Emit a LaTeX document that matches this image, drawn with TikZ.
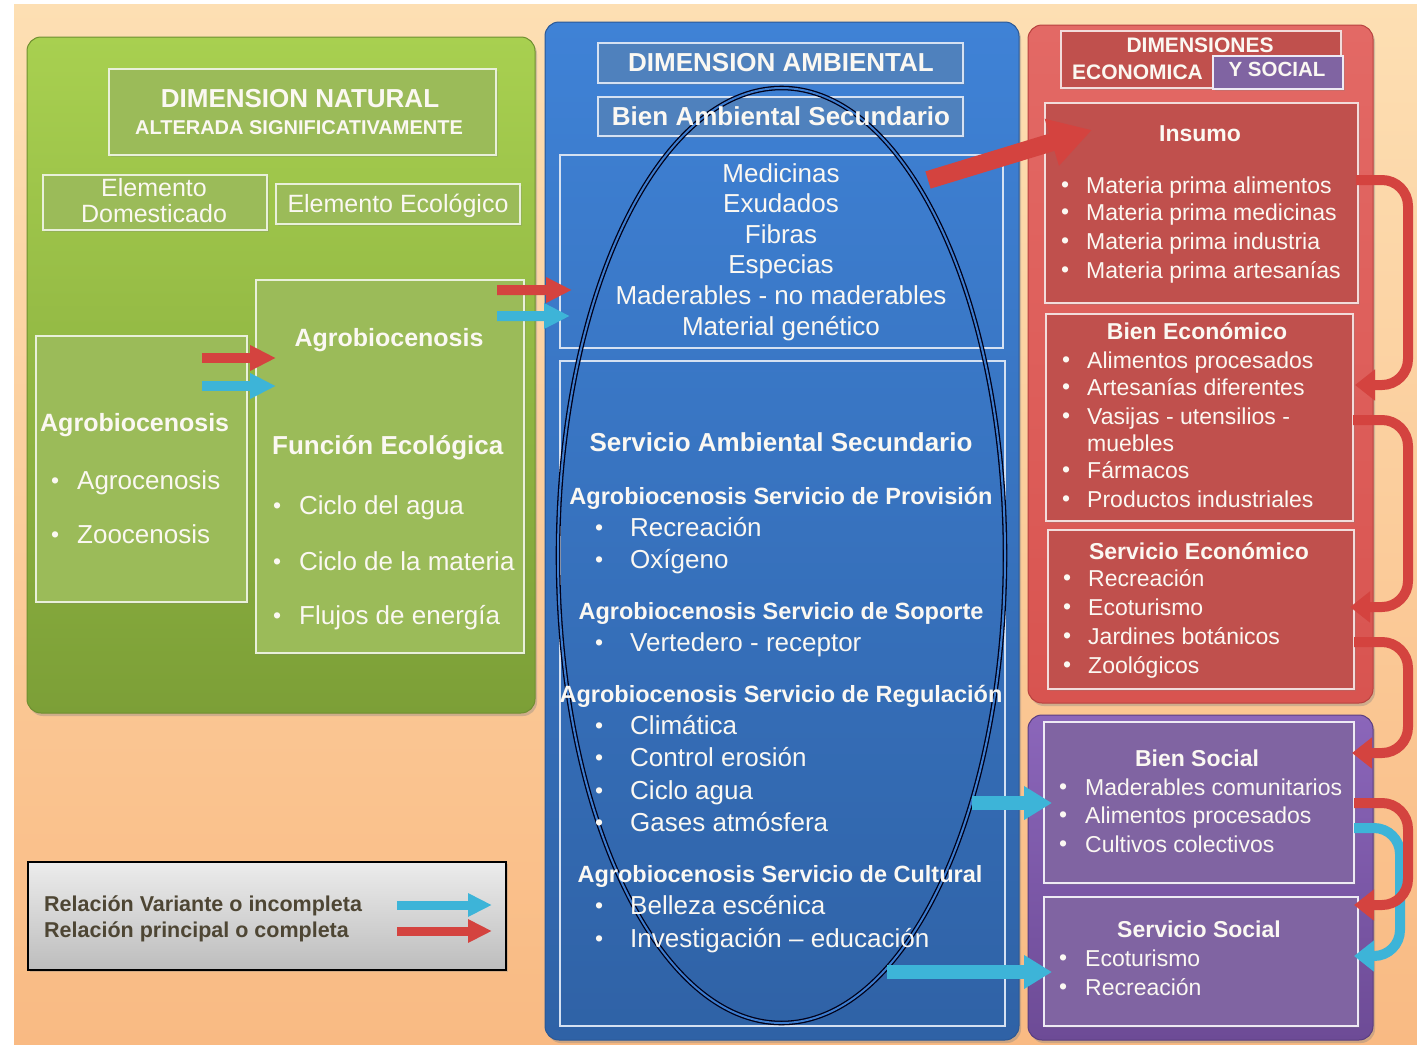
\documentclass[tikz,border=0pt]{standalone}
\usepackage{fontspec}
\setmainfont{Liberation Sans}
\usetikzlibrary{arrows.meta,calc,shadows,shapes.geometric}
\definecolor{peachT}{HTML}{FDDFB3}\definecolor{peachB}{HTML}{F9BA83}
\definecolor{grnT}{HTML}{A8D050}\definecolor{grnB}{HTML}{7C9F37}\definecolor{grnD}{HTML}{6F8F30}
\definecolor{gbox}{HTML}{9BBB59}\definecolor{gline}{HTML}{E9F0DA}
\definecolor{bluT}{HTML}{3F82D6}\definecolor{bluB}{HTML}{2F62A6}\definecolor{bluD}{HTML}{2A5896}
\definecolor{bbox}{HTML}{4F81BD}\definecolor{bline}{HTML}{D5E1F2}
\definecolor{redT}{HTML}{E36965}\definecolor{redB}{HTML}{D85450}\definecolor{redD}{HTML}{B8423F}
\definecolor{rbox}{HTML}{C0504D}\definecolor{rline}{HTML}{F2DCDB}
\definecolor{purT}{HTML}{8B66BA}\definecolor{purB}{HTML}{6D4B96}\definecolor{purD}{HTML}{5A3D80}
\definecolor{pbox}{HTML}{8064A2}\definecolor{pline}{HTML}{EEEAF4}
\definecolor{arrR}{HTML}{D4433F}\definecolor{arrC}{HTML}{3DB4D8}
\definecolor{txtw}{HTML}{FBF8F2}
\definecolor{legT}{HTML}{ECECEC}\definecolor{legB}{HTML}{BDBDBD}\definecolor{legtxt}{HTML}{4E4634}
\newcommand\fs[1]{\fontsize{#1bp}{#1bp}\selectfont}
\newcommand\bul[1]{\makebox[#1bp][l]{\raisebox{0.5bp}{\fs{23}•}}}
\newcommand\mybox[6]{\node[#1,minimum width={(#4-#2)*1bp},minimum height={(#5-#3)*1bp}] (#6) at ({(#2+#4)/2},{(#3+#5)/2}) {};}
\tikzset{
  base/.style={inner sep=0pt,outer sep=0pt},
  panel/.style={base,rounded corners=14bp,line width=1bp,drop shadow={opacity=0.35,shadow xshift=2bp,shadow yshift=-3bp}},
  gpanel/.style={panel,top color=grnT,bottom color=grnB,draw=grnD},
  bpanel/.style={panel,top color=bluT,bottom color=bluB,draw=bluD},
  rpanel/.style={panel,top color=redT,bottom color=redB,draw=redD},
  ppanel/.style={panel,top color=purT,bottom color=purB,draw=purD},
  shbox/.style={base,line width=1.3bp,drop shadow={opacity=0.25,shadow xshift=2bp,shadow yshift=-2bp}},
  gboxs/.style={shbox,fill=gbox,draw=gline},
  bboxs/.style={shbox,fill=bbox,draw=bline},
  bframe/.style={base,line width=1.3bp,draw=bline},
  rboxs/.style={shbox,fill=rbox,draw=rline},
  pboxs/.style={shbox,fill=pbox,draw=pline},
  legbox/.style={base,top color=legT,bottom color=legB,draw=black,line width=1.5bp,drop shadow={opacity=0.3,shadow xshift=2bp,shadow yshift=-2bp}},
  txt/.style={inner sep=0pt,text=txtw,font=\fs{26}},
  btxt/.style={txt,font=\bfseries\fs{26}},
  rtxt/.style={txt,font=\fs{23}},
  rbtxt/.style={txt,font=\bfseries\fs{23}},
  smallR/.style={draw=arrR,line width=10bp,-{Triangle[length=26bp,width=24bp]}},
  smallC/.style={draw=arrC,line width=10bp,-{Triangle[length=26bp,width=24bp]}},
  bigR/.style={draw=arrR,line width=18bp,-{Triangle[length=42bp,width=46bp]}},
  midC/.style={draw=arrC,line width=14bp,-{Triangle[length=28bp,width=32bp]}},
  curR/.style={draw=arrR,line width=10bp,rounded corners=26bp,-{Triangle[length=20bp,width=30bp]}},
  curC/.style={draw=arrC,line width=10bp,rounded corners=26bp,-{Triangle[length=20bp,width=30bp]}},
  legR/.style={draw=arrR,line width=9bp,-{Triangle[length=24bp,width=22bp]}},
  legC/.style={draw=arrC,line width=9bp,-{Triangle[length=24bp,width=22bp]}},
  ell/.style={ellipse,draw=black!90!blue,double=bluT!85!bluB,double distance=2bp,line width=1.3bp,inner sep=0pt}
}
\begin{document}
\begin{tikzpicture}[x=1bp,y=-1bp]
\useasboundingbox (0,0) rectangle (1417,1044);
\fill[white] (0,0) rectangle (1417,1044);
\path[top color=peachT,bottom color=peachB] (14,4) rectangle (1417,1044);
% panels
\mybox{gpanel}{27}{37}{535}{713}{pgreen}
\mybox{bpanel}{545}{22}{1019}{1040}{pblue}
\mybox{rpanel}{1028}{25}{1373}{703}{pred}
\mybox{ppanel}{1028}{715}{1373}{1040}{ppur}
\mybox{legbox}{28}{862}{506}{970}{leg}
% green boxes
\mybox{gboxs}{109}{69}{496}{155}{dnat}
\mybox{gboxs}{43}{175}{267}{230}{edom}
\mybox{gboxs}{276}{184}{520}{224}{eeco}
\mybox{gboxs}{256}{280}{524}{653}{agroR}
\mybox{gboxs}{36}{336}{247}{602}{agroL}
% blue boxes
\mybox{bboxs}{598}{43}{963}{83}{damb}
\mybox{bboxs}{598}{97}{963}{136}{bamb}
\mybox{bframe}{560}{155}{1003}{348}{blist}
\mybox{bframe}{560}{361}{1005}{1026}{slist}
\node[ell,minimum width=447bp,minimum height=935bp] (oval) at (781.5,555.5) {};
% red / purple boxes
\mybox{rboxs}{1061}{31}{1341}{88}{dec}
\mybox{pboxs}{1213}{56}{1343}{89}{ysoc}
\mybox{rboxs}{1045}{103}{1358}{303}{ins}
\mybox{rboxs}{1046}{314}{1353}{521}{bec}
\mybox{rboxs}{1048}{530}{1354}{689}{sec}
\mybox{pboxs}{1044}{722}{1354}{883}{bso}
\mybox{pboxs}{1044}{897}{1358}{1026}{sso}

% ---------- texts: green
\node[btxt,anchor=base] (t-dn1) at (300,107) {DIMENSION NATURAL};
\node[txt,font=\bfseries\fs{20},anchor=base] (t-dn2) at (299,134) {ALTERADA SIGNIFICATIVAMENTE};
\node[txt,font=\fs{25},anchor=base] (t-ed1) at (154,196) {Elemento};
\node[txt,font=\fs{25},anchor=base] (t-ed2) at (154,222) {Domesticado};
\node[txt,font=\fs{25},anchor=base] (t-ee) at (398,212) {Elemento Ecológico};
\node[txt,font=\bfseries\fs{25},anchor=base] (t-agR) at (389,346) {Agrobiocenosis};
\node[btxt,anchor=base west] (t-fe) at (272,454) {Función Ecológica};
\node[txt,anchor=base west] (t-fe1) at (273,514) {\bul{26}Ciclo del agua};
\node[txt,anchor=base west] (t-fe2) at (273,570) {\bul{26}Ciclo de la materia};
\node[txt,anchor=base west] (t-fe3) at (273,624) {\bul{26}Flujos de energía};
\node[txt,font=\bfseries\fs{25},anchor=base west] (t-agL) at (40,431) {Agrobiocenosis};
\node[txt,anchor=base west] (t-agL1) at (51,489) {\bul{26}Agrocenosis};
\node[txt,anchor=base west] (t-agL2) at (51,543) {\bul{26}Zoocenosis};

% ---------- texts: blue
\node[btxt,anchor=base] (t-da) at (781,71) {DIMENSION AMBIENTAL};
\node[btxt,anchor=base] (t-ba) at (781,125) {Bien Ambiental Secundario};
\foreach \t [count=\i] in {Medicinas,Exudados,Fibras,Especias,Maderables - no maderables,Material genético}
  \node[txt,anchor=base] (t-m\i) at (781,{182+30.6*(\i-1)}) {\t};
\node[btxt,anchor=base] (t-sas) at (781,451) {Servicio Ambiental Secundario};
\node[txt,font=\bfseries\fs{23.5},anchor=base] (t-h1) at (781,504) {Agrobiocenosis Servicio de Provisión};
\node[txt,anchor=base west] (t-p1) at (595,536) {\bul{35}Recreación};
\node[txt,anchor=base west] (t-p2) at (595,568) {\bul{35}Oxígeno};
\node[txt,font=\bfseries\fs{23.5},anchor=base] (t-h2) at (781,619) {Agrobiocenosis Servicio de Soporte};
\node[txt,anchor=base west] (t-s1) at (595,651) {\bul{35}Vertedero - receptor};
\node[txt,font=\bfseries\fs{23.5},anchor=base] (t-h3) at (781,702) {Agrobiocenosis Servicio de Regulación};
\node[txt,anchor=base west] (t-r1) at (595,734) {\bul{35}Climática};
\node[txt,anchor=base west] (t-r2) at (595,766) {\bul{35}Control erosión};
\node[txt,anchor=base west] (t-r3) at (595,799) {\bul{35}Ciclo agua};
\node[txt,anchor=base west] (t-r4) at (595,831) {\bul{35}Gases atmósfera};
\node[txt,font=\bfseries\fs{23.5},anchor=base] (t-h4) at (780,882) {Agrobiocenosis Servicio de Cultural};
\node[txt,anchor=base west] (t-c1) at (595,914) {\bul{35}Belleza escénica};
\node[txt,anchor=base west] (t-c2) at (595,947) {\bul{35}Investigación – educación};

% ---------- texts: red / purple
\node[txt,font=\bfseries\fs{21},anchor=base] (t-dim) at (1200,52) {DIMENSIONES};
\node[txt,font=\bfseries\fs{21},anchor=base west] (t-eco) at (1072,79) {ECONOMICA};
\node[txt,font=\bfseries\fs{20.5},anchor=base] (t-ys) at (1277,76) {Y SOCIAL};
\node[rbtxt,anchor=base] (t-ins) at (1200,141) {Insumo};
\node[rtxt,anchor=base west] (t-i1) at (1061,193) {\bul{25}Materia prima alimentos};
\node[rtxt,anchor=base west] (t-i2) at (1061,220) {\bul{25}Materia prima medicinas};
\node[rtxt,anchor=base west] (t-i3) at (1061,249) {\bul{25}Materia prima industria};
\node[rtxt,anchor=base west] (t-i4) at (1061,278) {\bul{25}Materia prima artesanías};
\node[rbtxt,anchor=base] (t-bec) at (1197,339) {Bien Económico};
\node[rtxt,anchor=base west] (t-b1) at (1062,368) {\bul{25}Alimentos procesados};
\node[rtxt,anchor=base west] (t-b2) at (1062,395) {\bul{25}Artesanías diferentes};
\node[rtxt,anchor=base west] (t-b3) at (1062,424) {\bul{25}Vasijas - utensilios -};
\node[rtxt,anchor=base west] (t-b3b) at (1087,451) {muebles};
\node[rtxt,anchor=base west] (t-b4) at (1062,478) {\bul{25}Fármacos};
\node[rtxt,anchor=base west] (t-b5) at (1062,507) {\bul{25}Productos industriales};
\node[rbtxt,anchor=base] (t-sec) at (1199,559) {Servicio Económico};
\node[rtxt,anchor=base west] (t-e1) at (1063,586) {\bul{25}Recreación};
\node[rtxt,anchor=base west] (t-e2) at (1063,615) {\bul{25}Ecoturismo};
\node[rtxt,anchor=base west] (t-e3) at (1063,644) {\bul{25}Jardines botánicos};
\node[rtxt,anchor=base west] (t-e4) at (1063,673) {\bul{25}Zoológicos};
\node[rbtxt,anchor=base] (t-bso) at (1197,766) {Bien Social};
\node[rtxt,anchor=base west] (t-so1) at (1059,795) {\bul{26}Maderables comunitarios};
\node[rtxt,anchor=base west] (t-so2) at (1059,823) {\bul{26}Alimentos procesados};
\node[rtxt,anchor=base west] (t-so3) at (1059,852) {\bul{26}Cultivos colectivos};
\node[rbtxt,anchor=base] (t-sso) at (1199,937) {Servicio Social};
\node[rtxt,anchor=base west] (t-ss1) at (1059,966) {\bul{26}Ecoturismo};
\node[rtxt,anchor=base west] (t-ss2) at (1059,995) {\bul{26}Recreación};

% ---------- legend
\node[inner sep=0pt,text=legtxt,font=\bfseries\fs{21.5},anchor=base west] (t-l1) at (44,911) {Relación Variante o incompleta};
\node[inner sep=0pt,text=legtxt,font=\bfseries\fs{21.5},anchor=base west] (t-l2) at (44,937) {Relación principal o completa};
\coordinate (lc1) at ($(leg.north west)+(369,43)$);
\coordinate (lc2) at ($(leg.north west)+(464,43)$);
\coordinate (lr1) at ($(leg.north west)+(369,69)$);
\coordinate (lr2) at ($(leg.north west)+(464,69)$);
\draw[legC] (lc1) -- (lc2);
\draw[legR] (lr1) -- (lr2);

% ---------- straight arrows
\draw[smallR] ($(agroL.north east)+(-45,22)$) -- ($(agroR.north west)+(20,78)$);
\draw[smallC] ($(agroL.north east)+(-45,50)$) -- ($(agroR.north west)+(20,106)$);
\draw[smallR] ($(agroR.north east)+(-27,10)$) -- ($(blist.south west)+(12,-58)$);
\draw[smallC] ($(agroR.north east)+(-27,36)$) -- ($(blist.south west)+(10,-32)$);
\draw[bigR] ($(blist.north east)+(-75,25)$) -- ($(ins.north west)+(47,27)$);
\draw[midC] ($(slist.east)+(-33,109.5)$) -- ($(bso.west)+(8,0.5)$);
\draw[midC] ($(slist.south east)+(-118,-54)$) -- ($(sso.west)+(8,10.5)$);

% ---------- curved arrows on the right
\coordinate (a1) at ($(ins.north east)+(-2,77)$);
\coordinate (a2) at ($(bec.north east)+(2,71)$);
\coordinate (b1) at ($(bec.north east)+(0,106)$);
\coordinate (b2) at ($(sec.north east)+(-4,77)$);
\coordinate (c1) at ($(sec.north east)+(0,112)$);
\coordinate (c2) at ($(bso.north east)+(-2,31)$);
\coordinate (d1) at ($(bso.north east)+(0,81)$);
\coordinate (d2) at ($(sso.north east)+(-4,8)$);
\coordinate (e1) at ($(bso.north east)+(0,106)$);
\coordinate (e2) at ($(sso.north east)+(-4,59)$);
\coordinate (colA) at (1408,0);
\coordinate (colE) at (1400,0);
\draw[curR] (a1) -- (a1 -| colA) -- (a2 -| colA) -- (a2);
\draw[curR] (b1) -- (b1 -| colA) -- (b2 -| colA) -- (b2);
\draw[curR] (c1) -- (c1 -| colA) -- (c2 -| colA) -- (c2);
\draw[curC] (e1) -- (e1 -| colE) -- (e2 -| colE) -- (e2);
\draw[curR] (d1) -- (d1 -| colA) -- (d2 -| colA) -- (d2);
\end{tikzpicture}
\end{document}
